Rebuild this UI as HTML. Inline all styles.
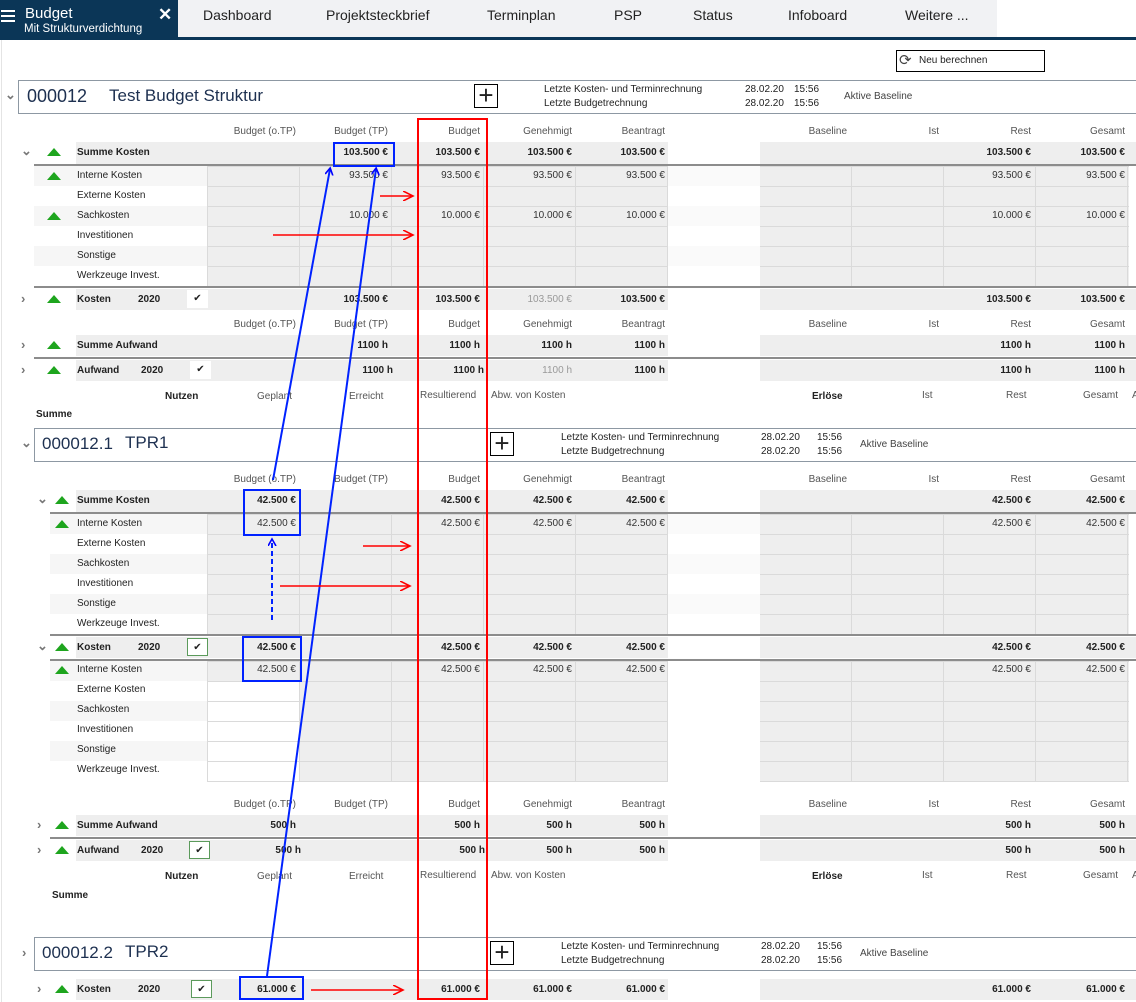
<!DOCTYPE html>
<html><head><meta charset="utf-8">
<style>
*{margin:0;padding:0;box-sizing:border-box}
body{width:1136px;height:1002px;position:relative;overflow:hidden;background:#fff;font-family:"Liberation Sans",sans-serif;font-size:10px;color:#222}
.a{position:absolute;white-space:nowrap}
.bg{position:absolute;background:#eeeeee}
.hl{position:absolute;height:2px;background:#8c8c8c}
.row{position:absolute;left:0;width:1136px;height:21px;line-height:21px}
.v{position:absolute;top:0;text-align:right;color:#333}
.b{font-weight:bold;color:#222}
.g{color:#999}
.c1{left:207px;width:89px}.c2{left:299px;width:89px}.c3{left:391px;width:89px}.c4{left:483px;width:89px}.c5{left:575px;width:90px}
.c6{left:760px;width:87px}.c7{left:850px;width:89px}.c8{left:942px;width:89px}.c9{left:1034px;width:91px}
.hdr{position:absolute;left:0;width:1136px;height:14px;line-height:14px;color:#555}
.hdr .v{color:#555}
.grid{position:absolute;background-color:#eeeeee;background-image:linear-gradient(#dadada 1px,transparent 1px),linear-gradient(90deg,#dadada 1px,transparent 1px);background-size:92px 20px;border-bottom:1px solid #dadada}
.band{position:absolute;height:20px;background:#f6f6f6}
.tri{position:absolute;width:0;height:0;border-left:7.5px solid transparent;border-right:7.5px solid transparent;border-bottom:8px solid #1ea51e}
.lab{position:absolute;left:77px;line-height:20px}
.box{position:absolute;border:1px solid #8d98a3;background:#fff}
.plus{position:absolute;width:24px;height:24px;border:1px solid #000;font-size:26px;line-height:20px;text-align:center;font-weight:300}
.chk{position:absolute;width:21px;height:18px;background:#fff;text-align:center;line-height:18px;font-size:10px}
.chk.o{border:1px solid #5b9a5b}
.chev{position:absolute;color:#777;font-size:13px;font-weight:bold}
</style></head><body>

<div class="a" style="left:0;top:0;width:178px;height:38px;background:#0b3657"></div>
<div class="a" style="left:178px;top:0;width:819px;height:38px;background:#f1f2f4"></div>
<div class="a" style="left:0;top:37px;width:1136px;height:3px;background:#0b3657"></div>
<div class="a" style="left:1px;top:10px;width:14px;height:2px;background:#fff;box-shadow:0 5px 0 #fff,0 10px 0 #fff"></div>
<div class="a" style="left:25px;top:5px;color:#fff;font-size:15px">Budget</div>
<div class="a" style="left:24px;top:23px;color:#fff;font-size:11.5px">Mit Strukturverdichtung</div>
<div class="a" style="left:158px;top:5px;color:#fff;font-size:17px;font-weight:bold">✕</div>
<div class="a" style="left:203px;top:7px;font-size:14px">Dashboard</div>
<div class="a" style="left:326px;top:7px;font-size:14px">Projektsteckbrief</div>
<div class="a" style="left:487px;top:7px;font-size:14px">Terminplan</div>
<div class="a" style="left:614px;top:7px;font-size:14px">PSP</div>
<div class="a" style="left:693px;top:7px;font-size:14px">Status</div>
<div class="a" style="left:788px;top:7px;font-size:14px">Infoboard</div>
<div class="a" style="left:905px;top:7px;font-size:14px">Weitere ...</div>
<div class="a" style="left:1px;top:40px;width:1px;height:962px;background:#e4e4e4"></div>

<div class="a" style="left:896px;top:50px;width:149px;height:22px;border:1px solid #000"></div>
<div class="a" style="left:899px;top:51px;font-size:15px;color:#444">⟳</div>
<div class="a" style="left:919px;top:55px;font-size:10px">Neu berechnen</div>

<div class="chev" style="left:5px;top:87px">⌄</div>
<div class="box" style="left:18px;top:80px;width:1130px;height:34px"></div>
<div class="a" style="left:27px;top:86px;font-size:18px;color:#1d3050">000012</div>
<div class="a" style="left:109px;top:86px;font-size:17px;color:#1d3050">Test Budget Struktur</div>
<div class="plus" style="left:474px;top:84px">+</div>
<div class="a" style="left:544px;top:84px">Letzte Kosten- und Terminrechnung</div>
<div class="a" style="left:544px;top:98px">Letzte Budgetrechnung</div>
<div class="a" style="left:745px;top:84px">28.02.20</div><div class="a" style="left:794px;top:84px">15:56</div>
<div class="a" style="left:745px;top:98px">28.02.20</div><div class="a" style="left:794px;top:98px">15:56</div>
<div class="a" style="left:844px;top:91px;color:#444">Aktive Baseline</div>

<div class="hdr" style="top:125px"><div class="v c1">Budget (o.TP)</div><div class="v c2">Budget (TP)</div><div class="v c3">Budget</div><div class="v c4">Genehmigt</div><div class="v c5">Beantragt</div><div class="v c6">Baseline</div><div class="v c7">Ist</div><div class="v c8">Rest</div><div class="v c9">Gesamt</div></div>

<div class="bg" style="left:76px;top:142px;width:592px;height:22px"></div>
<div class="bg" style="left:760px;top:142px;width:376px;height:22px"></div>
<div class="chev" style="left:21px;top:143px">⌄</div>
<div class="tri" style="left:47px;top:148px"></div>
<div class="row" style="top:142px;height:22px;line-height:22px"><div class="a b" style="left:77px">Summe Kosten</div><div class="v b c2">103.500 €</div><div class="v b c3">103.500 €</div><div class="v b c4">103.500 €</div><div class="v b c5">103.500 €</div><div class="v b c8">103.500 €</div><div class="v b c9">103.500 €</div></div>
<div class="hl" style="left:34px;top:164px;width:1102px"></div>
<div class="band" style="left:34px;top:166px;width:173px"></div>
<div class="band" style="left:34px;top:206px;width:173px"></div>
<div class="band" style="left:34px;top:246px;width:173px"></div>
<div class="band" style="left:668px;top:166px;width:92px;background:#fafafa"></div>
<div class="band" style="left:668px;top:206px;width:92px;background:#fafafa"></div>
<div class="band" style="left:668px;top:246px;width:92px;background:#fafafa"></div>
<div class="grid" style="left:207px;top:166px;width:461px;height:121px"></div>
<div class="grid" style="left:760px;top:166px;width:369px;height:121px;background-position:-1px 0"></div>
<div class="tri" style="left:47px;top:172px"></div>
<div class="tri" style="left:47px;top:212px"></div>
<div class="lab" style="top:166px">Interne Kosten</div>
<div class="lab" style="top:186px">Externe Kosten</div>
<div class="lab" style="top:206px">Sachkosten</div>
<div class="lab" style="top:226px">Investitionen</div>
<div class="lab" style="top:246px">Sonstige</div>
<div class="lab" style="top:266px">Werkzeuge Invest.</div>
<div class="row" style="top:166px;line-height:20px"><div class="v c2">93.500 €</div><div class="v c3">93.500 €</div><div class="v c4">93.500 €</div><div class="v c5">93.500 €</div><div class="v c8">93.500 €</div><div class="v c9">93.500 €</div></div>
<div class="row" style="top:206px;line-height:20px"><div class="v c2">10.000 €</div><div class="v c3">10.000 €</div><div class="v c4">10.000 €</div><div class="v c5">10.000 €</div><div class="v c8">10.000 €</div><div class="v c9">10.000 €</div></div>
<div class="hl" style="left:34px;top:286px;width:1102px"></div>
<div class="bg" style="left:76px;top:289px;width:592px;height:21px"></div>
<div class="bg" style="left:760px;top:289px;width:376px;height:21px"></div>
<div class="chev" style="left:21px;top:291px">›</div>
<div class="tri" style="left:47px;top:295px"></div>
<div class="chk" style="left:187px;top:290px">✔</div>
<div class="row" style="top:289px"><div class="a b" style="left:77px">Kosten</div><div class="a b" style="left:138px">2020</div><div class="v b c2">103.500 €</div><div class="v b c3">103.500 €</div><div class="v g c4">103.500 €</div><div class="v b c5">103.500 €</div><div class="v b c8">103.500 €</div><div class="v b c9">103.500 €</div></div>

<div class="hdr" style="top:318px"><div class="v c1">Budget (o.TP)</div><div class="v c2">Budget (TP)</div><div class="v c3">Budget</div><div class="v c4">Genehmigt</div><div class="v c5">Beantragt</div><div class="v c6">Baseline</div><div class="v c7">Ist</div><div class="v c8">Rest</div><div class="v c9">Gesamt</div></div>
<div class="bg" style="left:76px;top:335px;width:592px;height:21px"></div>
<div class="bg" style="left:760px;top:335px;width:376px;height:21px"></div>
<div class="chev" style="left:21px;top:337px">›</div>
<div class="tri" style="left:47px;top:341px"></div>
<div class="row" style="top:335px"><div class="a b" style="left:77px">Summe Aufwand</div><div class="v b c2">1100 h</div><div class="v b c3">1100 h</div><div class="v b c4">1100 h</div><div class="v b c5">1100 h</div><div class="v b c8">1100 h</div><div class="v b c9">1100 h</div></div>
<div class="hl" style="left:34px;top:357px;width:1102px"></div>
<div class="bg" style="left:76px;top:360px;width:592px;height:21px"></div>
<div class="bg" style="left:760px;top:360px;width:376px;height:21px"></div>
<div class="chev" style="left:21px;top:362px">›</div>
<div class="tri" style="left:47px;top:366px"></div>
<div class="chk" style="left:190px;top:361px">✔</div>
<div class="row" style="top:360px"><div class="a b" style="left:77px">Aufwand</div><div class="a b" style="left:141px">2020</div><div class="v b c2" style="left:304px">1100 h</div><div class="v b c3" style="left:395px">1100 h</div><div class="v g c4">1100 h</div><div class="v b c5">1100 h</div><div class="v b c8">1100 h</div><div class="v b c9">1100 h</div></div>

<div class="a b" style="left:165px;top:391px">Nutzen</div>
<div class="a" style="left:257px;top:391px;color:#555">Geplant</div>
<div class="a" style="left:349px;top:391px;color:#555">Erreicht</div>
<div class="a" style="left:420px;top:390px;color:#555">Resultierend</div>
<div class="a" style="left:491px;top:390px;color:#555">Abw. von Kosten</div>
<div class="a b" style="left:812px;top:391px">Erlöse</div>
<div class="a" style="left:922px;top:390px;color:#555">Ist</div>
<div class="a" style="left:1006px;top:390px;color:#555">Rest</div>
<div class="a" style="left:1083px;top:390px;color:#555">Gesamt</div>
<div class="a" style="left:1132px;top:390px;color:#555">A</div>
<div class="a b" style="left:36px;top:409px">Summe</div>

<div class="chev" style="left:21px;top:435px">⌄</div>
<div class="box" style="left:34px;top:428px;width:1110px;height:34px"></div>
<div class="a" style="left:42px;top:434px;font-size:17px;color:#1d3050">000012.1</div>
<div class="a" style="left:125px;top:433px;font-size:17px;color:#1d3050">TPR1</div>
<div class="plus" style="left:490px;top:432px">+</div>
<div class="a" style="left:561px;top:432px">Letzte Kosten- und Terminrechnung</div>
<div class="a" style="left:561px;top:446px">Letzte Budgetrechnung</div>
<div class="a" style="left:761px;top:432px">28.02.20</div><div class="a" style="left:817px;top:432px">15:56</div>
<div class="a" style="left:761px;top:446px">28.02.20</div><div class="a" style="left:817px;top:446px">15:56</div>
<div class="a" style="left:860px;top:439px;color:#444">Aktive Baseline</div>

<div class="hdr" style="top:473px"><div class="v c1">Budget (o.TP)</div><div class="v c2">Budget (TP)</div><div class="v c3">Budget</div><div class="v c4">Genehmigt</div><div class="v c5">Beantragt</div><div class="v c6">Baseline</div><div class="v c7">Ist</div><div class="v c8">Rest</div><div class="v c9">Gesamt</div></div>
<div class="bg" style="left:76px;top:490px;width:592px;height:22px"></div>
<div class="bg" style="left:760px;top:490px;width:376px;height:22px"></div>
<div class="chev" style="left:37px;top:491px">⌄</div>
<div class="tri" style="left:55px;top:496px"></div>
<div class="row" style="top:490px;height:22px;line-height:22px"><div class="a b" style="left:77px">Summe Kosten</div><div class="v b c1">42.500 €</div><div class="v b c3">42.500 €</div><div class="v b c4">42.500 €</div><div class="v b c5">42.500 €</div><div class="v b c8">42.500 €</div><div class="v b c9">42.500 €</div></div>
<div class="hl" style="left:50px;top:512px;width:1086px"></div>
<div class="band" style="left:50px;top:514px;width:157px"></div>
<div class="band" style="left:50px;top:554px;width:157px"></div>
<div class="band" style="left:50px;top:594px;width:157px"></div>
<div class="band" style="left:668px;top:514px;width:92px;background:#fafafa"></div>
<div class="band" style="left:668px;top:554px;width:92px;background:#fafafa"></div>
<div class="band" style="left:668px;top:594px;width:92px;background:#fafafa"></div>
<div class="grid" style="left:207px;top:514px;width:461px;height:121px"></div>
<div class="grid" style="left:760px;top:514px;width:369px;height:121px;background-position:-1px 0"></div>
<div class="tri" style="left:55px;top:520px"></div>
<div class="lab" style="top:514px">Interne Kosten</div>
<div class="lab" style="top:534px">Externe Kosten</div>
<div class="lab" style="top:554px">Sachkosten</div>
<div class="lab" style="top:574px">Investitionen</div>
<div class="lab" style="top:594px">Sonstige</div>
<div class="lab" style="top:614px">Werkzeuge Invest.</div>
<div class="row" style="top:514px;line-height:20px"><div class="v c1">42.500 €</div><div class="v c3">42.500 €</div><div class="v c4">42.500 €</div><div class="v c5">42.500 €</div><div class="v c8">42.500 €</div><div class="v c9">42.500 €</div></div>
<div class="hl" style="left:50px;top:634px;width:1086px"></div>
<div class="bg" style="left:76px;top:637px;width:592px;height:21px"></div>
<div class="bg" style="left:760px;top:637px;width:376px;height:21px"></div>
<div class="chev" style="left:37px;top:638px">⌄</div>
<div class="tri" style="left:55px;top:643px"></div>
<div class="chk o" style="left:187px;top:638px">✔</div>
<div class="row" style="top:637px"><div class="a b" style="left:77px">Kosten</div><div class="a b" style="left:138px">2020</div><div class="v b c1">42.500 €</div><div class="v b c3">42.500 €</div><div class="v b c4">42.500 €</div><div class="v b c5">42.500 €</div><div class="v b c8">42.500 €</div><div class="v b c9">42.500 €</div></div>
<div class="hl" style="left:50px;top:659px;width:1086px"></div>
<div class="band" style="left:50px;top:661px;width:157px"></div>
<div class="band" style="left:50px;top:701px;width:157px"></div>
<div class="band" style="left:50px;top:741px;width:157px"></div>
<div class="grid" style="left:207px;top:661px;width:461px;height:121px"></div>
<div class="a" style="left:208px;top:681px;width:91px;height:100px;background:#fff;background-image:linear-gradient(#dadada 1px,transparent 1px);background-size:92px 20px"></div>
<div class="grid" style="left:760px;top:661px;width:369px;height:121px;background-position:-1px 0"></div>
<div class="tri" style="left:55px;top:666px"></div>
<div class="lab" style="top:660px">Interne Kosten</div>
<div class="lab" style="top:680px">Externe Kosten</div>
<div class="lab" style="top:700px">Sachkosten</div>
<div class="lab" style="top:720px">Investitionen</div>
<div class="lab" style="top:740px">Sonstige</div>
<div class="lab" style="top:760px">Werkzeuge Invest.</div>
<div class="row" style="top:660px;line-height:20px"><div class="v c1">42.500 €</div><div class="v c3">42.500 €</div><div class="v c4">42.500 €</div><div class="v c5">42.500 €</div><div class="v c8">42.500 €</div><div class="v c9">42.500 €</div></div>

<div class="hdr" style="top:798px"><div class="v c1">Budget (o.TP)</div><div class="v c2">Budget (TP)</div><div class="v c3">Budget</div><div class="v c4">Genehmigt</div><div class="v c5">Beantragt</div><div class="v c6">Baseline</div><div class="v c7">Ist</div><div class="v c8">Rest</div><div class="v c9">Gesamt</div></div>
<div class="bg" style="left:76px;top:815px;width:592px;height:21px"></div>
<div class="bg" style="left:760px;top:815px;width:376px;height:21px"></div>
<div class="chev" style="left:37px;top:817px">›</div>
<div class="tri" style="left:55px;top:821px"></div>
<div class="row" style="top:815px"><div class="a b" style="left:77px">Summe Aufwand</div><div class="v b c1">500 h</div><div class="v b c3">500 h</div><div class="v b c4">500 h</div><div class="v b c5">500 h</div><div class="v b c8">500 h</div><div class="v b c9">500 h</div></div>
<div class="hl" style="left:50px;top:837px;width:1086px"></div>
<div class="bg" style="left:76px;top:840px;width:592px;height:21px"></div>
<div class="bg" style="left:760px;top:840px;width:376px;height:21px"></div>
<div class="chev" style="left:37px;top:842px">›</div>
<div class="tri" style="left:55px;top:846px"></div>
<div class="chk o" style="left:189px;top:841px">✔</div>
<div class="row" style="top:840px"><div class="a b" style="left:77px">Aufwand</div><div class="a b" style="left:141px">2020</div><div class="v b c1" style="left:212px">500 h</div><div class="v b c3" style="left:396px">500 h</div><div class="v b c4">500 h</div><div class="v b c5">500 h</div><div class="v b c8">500 h</div><div class="v b c9">500 h</div></div>

<div class="a b" style="left:165px;top:871px">Nutzen</div>
<div class="a" style="left:257px;top:871px;color:#555">Geplant</div>
<div class="a" style="left:349px;top:871px;color:#555">Erreicht</div>
<div class="a" style="left:420px;top:870px;color:#555">Resultierend</div>
<div class="a" style="left:491px;top:870px;color:#555">Abw. von Kosten</div>
<div class="a b" style="left:812px;top:871px">Erlöse</div>
<div class="a" style="left:922px;top:870px;color:#555">Ist</div>
<div class="a" style="left:1006px;top:870px;color:#555">Rest</div>
<div class="a" style="left:1083px;top:870px;color:#555">Gesamt</div>
<div class="a" style="left:1132px;top:870px;color:#555">A</div>
<div class="a b" style="left:52px;top:890px">Summe</div>

<div class="chev" style="left:22px;top:945px">›</div>
<div class="box" style="left:34px;top:937px;width:1110px;height:34px"></div>
<div class="a" style="left:42px;top:943px;font-size:17px;color:#1d3050">000012.2</div>
<div class="a" style="left:125px;top:942px;font-size:17px;color:#1d3050">TPR2</div>
<div class="plus" style="left:490px;top:941px">+</div>
<div class="a" style="left:561px;top:941px">Letzte Kosten- und Terminrechnung</div>
<div class="a" style="left:561px;top:955px">Letzte Budgetrechnung</div>
<div class="a" style="left:761px;top:941px">28.02.20</div><div class="a" style="left:817px;top:941px">15:56</div>
<div class="a" style="left:761px;top:955px">28.02.20</div><div class="a" style="left:817px;top:955px">15:56</div>
<div class="a" style="left:860px;top:948px;color:#444">Aktive Baseline</div>
<div class="bg" style="left:76px;top:979px;width:592px;height:21px"></div>
<div class="bg" style="left:760px;top:979px;width:376px;height:21px"></div>
<div class="chev" style="left:37px;top:981px">›</div>
<div class="tri" style="left:55px;top:985px"></div>
<div class="chk o" style="left:191px;top:980px">✔</div>
<div class="row" style="top:979px"><div class="a b" style="left:77px">Kosten</div><div class="a b" style="left:138px">2020</div><div class="v b c1">61.000 €</div><div class="v b c3">61.000 €</div><div class="v b c4">61.000 €</div><div class="v b c5">61.000 €</div><div class="v b c8">61.000 €</div><div class="v b c9">61.000 €</div></div>

<svg class="a" style="left:0;top:0" width="1136" height="1002" viewBox="0 0 1136 1002">
<defs>
<marker id="ab" markerWidth="10" markerHeight="10" refX="6" refY="4" orient="auto" markerUnits="userSpaceOnUse"><path d="M0,0 L7,4 L0,8" fill="none" stroke="#0000ff" stroke-width="1.6"/></marker>
<marker id="ar" markerWidth="12" markerHeight="10" refX="9" refY="5" orient="auto" markerUnits="userSpaceOnUse"><path d="M0,0 L10,5 L0,10" fill="none" stroke="#ff0000" stroke-width="1.6"/></marker>
</defs>
<rect x="418" y="119" width="69" height="880" fill="none" stroke="#ff0000" stroke-width="2"/>
<rect x="334" y="143" width="60" height="23" fill="none" stroke="#0022ff" stroke-width="2"/>
<rect x="244" y="490" width="56" height="45" fill="none" stroke="#0022ff" stroke-width="2"/>
<rect x="243" y="637" width="58" height="44" fill="none" stroke="#0022ff" stroke-width="2"/>
<rect x="240" y="977" width="63" height="22" fill="none" stroke="#0022ff" stroke-width="2"/>
<line x1="273" y1="480" x2="330" y2="169" stroke="#0022ff" stroke-width="2" marker-end="url(#ab)"/>
<line x1="267" y1="976" x2="376" y2="169" stroke="#0022ff" stroke-width="2" marker-end="url(#ab)"/>
<line x1="272" y1="620" x2="272" y2="540" stroke="#0022ff" stroke-width="2" stroke-dasharray="5,3" marker-end="url(#ab)"/>
<line x1="380" y1="196" x2="412" y2="196" stroke="#ff0000" stroke-width="1.6" marker-end="url(#ar)"/>
<line x1="273" y1="235" x2="412" y2="235" stroke="#ff0000" stroke-width="1.6" marker-end="url(#ar)"/>
<line x1="363" y1="546" x2="409" y2="546" stroke="#ff0000" stroke-width="1.6" marker-end="url(#ar)"/>
<line x1="280" y1="586" x2="409" y2="586" stroke="#ff0000" stroke-width="1.6" marker-end="url(#ar)"/>
<line x1="311" y1="990" x2="402" y2="990" stroke="#ff0000" stroke-width="1.6" marker-end="url(#ar)"/>
</svg>
</body></html>
